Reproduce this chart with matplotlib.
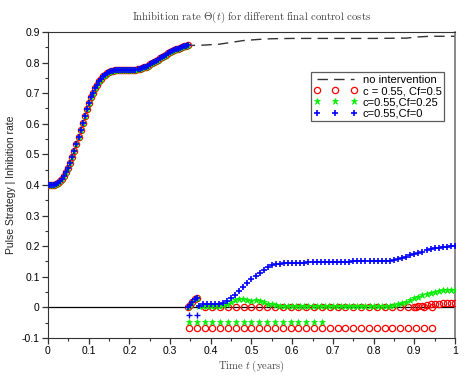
import numpy as np
import matplotlib
matplotlib.use('Agg')
import matplotlib.pyplot as plt
from matplotlib.ticker import MultipleLocator, FormatStrFormatter

plt.rcParams['mathtext.fontset'] = 'cm'
plt.rcParams['font.family'] = ['Liberation Sans', 'DejaVu Sans']

# common growth phase (all strategies identical), step 0.005 from t=0 to 0.345
t_early = np.arange(70) * 0.005
theta_early = [
    0.400, 0.400, 0.400, 0.401, 0.403, 0.407, 0.413, 0.420, 0.430, 0.442,
    0.456, 0.472, 0.490, 0.511, 0.533, 0.556, 0.580, 0.603, 0.626, 0.648,
    0.668, 0.686, 0.702, 0.716, 0.728, 0.739, 0.748, 0.755, 0.761, 0.766,
    0.770, 0.772, 0.774, 0.775, 0.776, 0.776, 0.776, 0.776, 0.776, 0.776,
    0.776, 0.776, 0.776, 0.777, 0.778, 0.779, 0.781, 0.784, 0.787, 0.790,
    0.794, 0.798, 0.802, 0.806, 0.810, 0.814, 0.818, 0.822, 0.826, 0.830,
    0.834, 0.837, 0.840, 0.843, 0.846, 0.849, 0.851, 0.853, 0.855, 0.856,
]

# no intervention, after the growth phase
t_noint = [0.35, 0.38, 0.42, 0.45, 0.48, 0.52, 0.55, 0.60, 0.70, 0.80, 0.88, 0.91, 0.94, 1.00]
theta_noint = [0.856, 0.857, 0.860, 0.866, 0.872, 0.876, 0.878, 0.879, 0.879, 0.879, 0.880, 0.884, 0.886, 0.886]

# short bump right after the first pulse (shared)
t_bump = [0.345, 0.350, 0.355, 0.360, 0.365]
theta_bump = [0.000, 0.008, 0.018, 0.027, 0.031]

# later inhibition, step 0.01 from 0.37 to 1.0
t_late = 0.37 + np.arange(64) * 0.01
theta_cf0 = [
    0.006, 0.010, 0.011, 0.011, 0.011, 0.012, 0.015, 0.021, 0.030, 0.041,
    0.053, 0.066, 0.079, 0.092, 0.103, 0.113, 0.123, 0.131, 0.137, 0.141,
    0.143, 0.144, 0.145, 0.145, 0.146, 0.146, 0.146, 0.147, 0.147, 0.147,
    0.147, 0.148, 0.148, 0.148, 0.149, 0.149, 0.149, 0.149, 0.150, 0.150,
    0.150, 0.150, 0.150, 0.150, 0.151, 0.151, 0.152, 0.153, 0.155, 0.158,
    0.162, 0.166, 0.170, 0.174, 0.178, 0.182, 0.186, 0.190, 0.193, 0.195,
    0.197, 0.198, 0.199, 0.199,
]
theta_cf025 = [
    0.004, 0.005, 0.005, 0.005, 0.005, 0.006, 0.008, 0.012, 0.018, 0.024,
    0.028, 0.029, 0.024, 0.020, 0.025, 0.022, 0.016, 0.012, 0.010, 0.008,
    0.006, 0.005, 0.005, 0.005, 0.005, 0.005, 0.005, 0.005, 0.005, 0.005,
    0.005, 0.005, 0.005, 0.005, 0.005, 0.005, 0.005, 0.005, 0.005, 0.005,
    0.005, 0.005, 0.005, 0.005, 0.005, 0.005, 0.005, 0.005, 0.007, 0.010,
    0.014, 0.019, 0.024, 0.030, 0.035, 0.040, 0.044, 0.048, 0.051, 0.054,
    0.056, 0.057, 0.057, 0.057,
]
# Cf=0.5 : zero on weekly grid, small rise at the end
cf05_zero_weeks = np.arange(20, 50)
t_cf05_end = [0.90, 0.91, 0.92, 0.93, 0.94, 0.95, 0.96, 0.97, 0.98, 0.99, 1.00]
theta_cf05_end = [0.002, 0.004, 0.006, 0.008, 0.010, 0.011, 0.012, 0.013, 0.013, 0.013, 0.013]

# pulse times (weekly), plotted below zero
pulse_weeks_cf05 = np.arange(18, 50)
pulse_weeks_cf025 = np.arange(18, 36)
pulse_weeks_cf0 = np.arange(18, 20)
pulse_level = {'cf05': -0.067, 'cf025': -0.048, 'cf0': -0.025}

fig = plt.figure(figsize=(4.76, 3.76), dpi=100)
ax = fig.add_axes([0.1008, 0.1011, 0.8551, 0.8138])

ax.axhline(0, color='black', lw=0.9, zorder=1)

# no intervention
t_ni = np.concatenate([t_early, t_noint])
th_ni = np.concatenate([theta_early, theta_noint])
ax.plot(t_ni, th_ni, color='#333333', lw=1, dashes=(7.5, 4.5), label='no intervention', zorder=2)

ms = 4.5
# c=0.55, Cf=0.5
t_r = np.concatenate([t_early, t_bump, cf05_zero_weeks / 52, t_cf05_end])
th_r = np.concatenate([theta_early, theta_bump, np.zeros(len(cf05_zero_weeks)), theta_cf05_end])
ax.plot(t_r, th_r, 'o', mfc='none', mec='red', ms=ms, mew=0.9, label='c = 0.55, Cf=0.5', zorder=3)
ax.plot(pulse_weeks_cf05 / 52, np.full(len(pulse_weeks_cf05), pulse_level['cf05']),
        'o', mfc='none', mec='red', ms=ms, mew=0.9, zorder=3)

# c=0.55, Cf=0.25
t_g = np.concatenate([t_early, t_bump, t_late])
th_g = np.concatenate([theta_early, theta_bump, theta_cf025])
ax.plot(t_g, th_g, '*', color='#00ee00', ms=ms + 0.5, mew=0.5, label='c=0.55,Cf=0.25', zorder=4)
ax.plot(pulse_weeks_cf025 / 52, np.full(len(pulse_weeks_cf025), pulse_level['cf025']),
        '*', color='#00ee00', ms=ms + 0.5, mew=0.5, zorder=4)

# c=0.55, Cf=0
t_b = np.concatenate([t_early, t_bump, t_late])
th_b = np.concatenate([theta_early, theta_bump, theta_cf0])
ax.plot(t_b, th_b, '+', color='blue', ms=ms + 0.5, mew=1.2, label='c=0.55,Cf=0', zorder=5)
ax.plot(pulse_weeks_cf0 / 52, np.full(len(pulse_weeks_cf0), pulse_level['cf0']),
        '+', color='blue', ms=ms, mew=1.0, zorder=5)

ax.set_xlim(0, 1)
ax.set_ylim(-0.1, 0.9)
ax.xaxis.set_major_locator(MultipleLocator(0.1))
ax.xaxis.set_minor_locator(MultipleLocator(0.05))
ax.yaxis.set_major_locator(MultipleLocator(0.1))
ax.yaxis.set_minor_locator(MultipleLocator(0.05))
ax.xaxis.set_major_formatter(FormatStrFormatter('%g'))
ax.yaxis.set_major_formatter(FormatStrFormatter('%g'))
ax.tick_params(which='major', direction='out', length=4, width=0.9, labelsize=7.5, color='#333333', pad=2)
ax.tick_params(which='minor', direction='out', length=2.5, width=0.8, color='#333333')
ax.tick_params(top=False, right=False)
for s in ['left', 'bottom', 'top']:
    ax.spines[s].set_color('#333333')
ax.spines['right'].set_color('#777777')
ax.spines['right'].set_linewidth(1.2)

ax.set_title(r'$\mathrm{Inhibition\ rate\ }\Theta(t)\mathrm{\ for\ different\ final\ control\ costs}$',
             fontsize=7.8, color='#444444', pad=9)
ax.set_xlabel(r'$\mathrm{Time\ }t\mathrm{\ (years)}$', fontsize=7.6, color='#444444', labelpad=2)
ax.set_ylabel('Pulse Strategy | Inhibition rate', fontsize=7.5, color='#222222', labelpad=4)

leg = ax.legend(loc='upper left', bbox_to_anchor=(0.646, 0.868), numpoints=3, handlelength=3.9,
                fontsize=8, frameon=True, fancybox=False, borderpad=0.25, labelspacing=0.1,
                handletextpad=0.5, borderaxespad=0)
leg.get_frame().set_edgecolor('#333333')
leg.get_frame().set_linewidth(0.9)

plt.savefig('out.png', dpi=100)
